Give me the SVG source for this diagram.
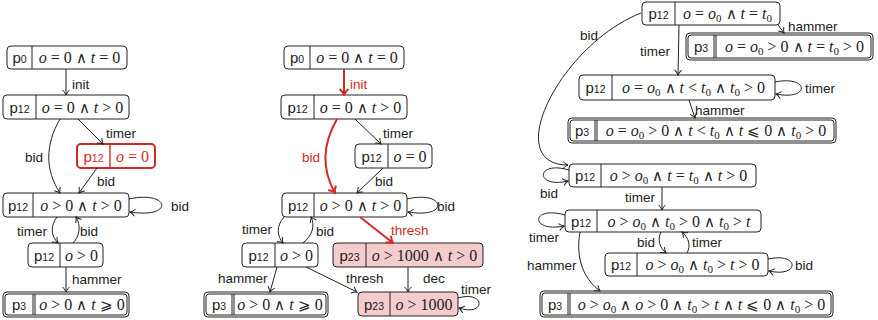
<svg xmlns="http://www.w3.org/2000/svg" width="878" height="320" viewBox="0 0 878 320">
<style>
.n{fill:#fff;stroke:#222;stroke-width:1}
.dv{stroke:#222;stroke-width:1}
.r{fill:#fff;stroke:#d42a22;stroke-width:2}
.rd{stroke:#d42a22;stroke-width:1.4}
.pk{fill:#f4cccc;stroke:#222;stroke-width:1}
.e{fill:none;stroke:#222;stroke-width:1;marker-end:url(#ah)}
.er{fill:none;stroke:#d42a22;stroke-width:2;marker-end:url(#ahr)}
.l{font-family:"Liberation Sans","DejaVu Sans",sans-serif;font-size:13.5px;fill:#222}
.lr{font-family:"Liberation Sans","DejaVu Sans",sans-serif;font-size:13.5px;fill:#d42a22}
.p{font-family:"Liberation Sans","DejaVu Sans",sans-serif;font-size:15px;fill:#222;text-anchor:middle}
.m{font-family:"Liberation Serif","DejaVu Serif",serif;font-size:16px;fill:#222;text-anchor:middle}
.red{fill:#d42a22}
.i{font-style:italic}
.s{font-size:10.5px}
.b{font-size:11px}
.w{font-family:"DejaVu Sans",sans-serif;font-weight:200;font-size:15px}
</style>
<defs>
<marker id="ah" markerUnits="userSpaceOnUse" viewBox="-7 -5 8 10" markerWidth="8" markerHeight="10" refX="0" refY="0" orient="auto">
<path d="M-5,-3.5 C-3,-1.5 -1,-0.4 0,0 C-1,0.4 -3,1.5 -5,3.5" fill="none" stroke="#222" stroke-width="1"/>
</marker>
<marker id="ahr" markerUnits="userSpaceOnUse" viewBox="-8 -6 9 12" markerWidth="9" markerHeight="12" refX="0" refY="0" orient="auto">
<path d="M-6,-4.5 C-4,-2 -1.5,-0.5 0,0 C-1.5,0.5 -4,2 -6,4.5" fill="none" stroke="#d42a22" stroke-width="2"/>
</marker>
</defs>

<!-- LEFT DIAGRAM -->
<g id="L-A">
<rect class="n" x="7" y="46" width="120" height="23" rx="4"/>
<line class="dv" x1="32" y1="46" x2="32" y2="69"/>
<text class="p" x="19.5" y="63">p<tspan class="s">0</tspan></text>
<text class="m" x="79.5" y="63"><tspan class="i">o</tspan> = 0 <tspan class="w">∧</tspan> <tspan class="i">t</tspan> = 0</text>
</g>
<g id="L-B">
<rect class="n" x="3" y="95" width="126" height="24" rx="4"/>
<line class="dv" x1="36" y1="95" x2="36" y2="119"/>
<text class="p" x="19.5" y="112.5">p<tspan class="s">12</tspan></text>
<text class="m" x="82.5" y="112.5"><tspan class="i">o</tspan> = 0 <tspan class="w">∧</tspan> <tspan class="i">t</tspan> &gt; 0</text>
</g>
<g id="L-C">
<rect class="r" x="77" y="144" width="78" height="24" rx="4"/>
<line class="rd" x1="110" y1="144" x2="110" y2="168"/>
<text class="p red" x="93.5" y="161.5">p<tspan class="s">12</tspan></text>
<text class="m red" x="132.5" y="161.5"><tspan class="i">o</tspan> = 0</text>
</g>
<g id="L-D">
<rect class="n" x="3" y="193" width="126" height="24" rx="4"/>
<line class="dv" x1="33" y1="193" x2="33" y2="217"/>
<text class="p" x="18" y="210.5">p<tspan class="s">12</tspan></text>
<text class="m" x="81" y="210.5"><tspan class="i">o</tspan> &gt; 0 <tspan class="w">∧</tspan> <tspan class="i">t</tspan> &gt; 0</text>
</g>
<g id="L-E">
<rect class="n" x="28" y="243" width="75" height="24" rx="4"/>
<line class="dv" x1="60" y1="243" x2="60" y2="267"/>
<text class="p" x="44" y="260.5">p<tspan class="s">12</tspan></text>
<text class="m" x="81.5" y="260.5"><tspan class="i">o</tspan> &gt; 0</text>
</g>
<g id="L-F">
<rect class="n" x="3" y="292" width="126" height="25" rx="4"/>
<rect class="n" x="5" y="294" width="122" height="21" rx="3"/>
<line class="dv" x1="33" y1="294" x2="33" y2="315"/>
<line class="dv" x1="35" y1="294" x2="35" y2="315"/>
<text class="p" x="19" y="310">p<tspan class="s">3</tspan></text>
<text class="m" x="82" y="310"><tspan class="i">o</tspan> &gt; 0 <tspan class="w">∧</tspan> <tspan class="i">t</tspan> <tspan class="w">⩾</tspan> 0</text>
</g>

<!-- MIDDLE DIAGRAM -->
<g id="M-A">
<rect class="n" x="284" y="46" width="120" height="23" rx="4"/>
<line class="dv" x1="310" y1="46" x2="310" y2="69"/>
<text class="p" x="297" y="63">p<tspan class="s">0</tspan></text>
<text class="m" x="357" y="63"><tspan class="i">o</tspan> = 0 <tspan class="w">∧</tspan> <tspan class="i">t</tspan> = 0</text>
</g>
<g id="M-B">
<rect class="n" x="281" y="95" width="126" height="24" rx="4"/>
<line class="dv" x1="314" y1="95" x2="314" y2="119"/>
<text class="p" x="297.5" y="112.5">p<tspan class="s">12</tspan></text>
<text class="m" x="360.5" y="112.5"><tspan class="i">o</tspan> = 0 <tspan class="w">∧</tspan> <tspan class="i">t</tspan> &gt; 0</text>
</g>
<g id="M-C">
<rect class="n" x="355" y="144" width="77" height="24" rx="4"/>
<line class="dv" x1="388" y1="144" x2="388" y2="168"/>
<text class="p" x="371.5" y="161.5">p<tspan class="s">12</tspan></text>
<text class="m" x="410" y="161.5"><tspan class="i">o</tspan> = 0</text>
</g>
<g id="M-D">
<rect class="n" x="282" y="193" width="125" height="24" rx="4"/>
<line class="dv" x1="314" y1="193" x2="314" y2="217"/>
<text class="p" x="298" y="210.5">p<tspan class="s">12</tspan></text>
<text class="m" x="360.5" y="210.5"><tspan class="i">o</tspan> &gt; 0 <tspan class="w">∧</tspan> <tspan class="i">t</tspan> &gt; 0</text>
</g>
<g id="M-E">
<rect class="n" x="242" y="243" width="76" height="24" rx="4"/>
<line class="dv" x1="275" y1="243" x2="275" y2="267"/>
<text class="p" x="258.5" y="260.5">p<tspan class="s">12</tspan></text>
<text class="m" x="296.5" y="260.5"><tspan class="i">o</tspan> &gt; 0</text>
</g>
<g id="M-G">
<rect class="pk" x="333" y="243" width="150" height="24" rx="4"/>
<line class="dv" x1="366" y1="243" x2="366" y2="267"/>
<text class="p" x="349.5" y="260.5">p<tspan class="s">23</tspan></text>
<text class="m" x="424.5" y="260.5"><tspan class="i">o</tspan> &gt; 1000 <tspan class="w">∧</tspan> <tspan class="i">t</tspan> &gt; 0</text>
</g>
<g id="M-H">
<rect class="n" x="204" y="292" width="124" height="25" rx="4"/>
<rect class="n" x="206" y="294" width="120" height="21" rx="3"/>
<line class="dv" x1="232" y1="294" x2="232" y2="315"/>
<line class="dv" x1="234" y1="294" x2="234" y2="315"/>
<text class="p" x="219" y="310">p<tspan class="s">3</tspan></text>
<text class="m" x="280" y="310"><tspan class="i">o</tspan> &gt; 0 <tspan class="w">∧</tspan> <tspan class="i">t</tspan> <tspan class="w">⩾</tspan> 0</text>
</g>
<g id="M-I">
<rect class="pk" x="358" y="292" width="100" height="24" rx="4"/>
<line class="dv" x1="390" y1="292" x2="390" y2="316"/>
<text class="p" x="374" y="309.5">p<tspan class="s">23</tspan></text>
<text class="m" x="424" y="309.5"><tspan class="i">o</tspan> &gt; 1000</text>
</g>

<!-- RIGHT DIAGRAM -->
<g id="R-1">
<rect class="n" x="642" y="2" width="138" height="23" rx="4"/>
<line class="dv" x1="675" y1="2" x2="675" y2="25"/>
<text class="p" x="658.5" y="19">p<tspan class="s">12</tspan></text>
<text class="m" x="727.5" y="19"><tspan class="i">o</tspan> = <tspan class="i">o</tspan><tspan class="b" dy="3">0</tspan><tspan dy="-3"> <tspan class="w">∧</tspan> </tspan><tspan class="i">t</tspan> = <tspan class="i">t</tspan><tspan class="b" dy="3">0</tspan></text>
</g>
<g id="R-2">
<rect class="n" x="686" y="33" width="187" height="27" rx="4"/>
<rect class="n" x="688" y="35" width="183" height="23" rx="3"/>
<line class="dv" x1="714" y1="35" x2="714" y2="58"/>
<line class="dv" x1="716" y1="35" x2="716" y2="58"/>
<text class="p" x="701" y="52">p<tspan class="s">3</tspan></text>
<text class="m" x="794.5" y="52"><tspan class="i">o</tspan> = <tspan class="i">o</tspan><tspan class="b" dy="3">0</tspan><tspan dy="-3"> &gt; 0 <tspan class="w">∧</tspan> </tspan><tspan class="i">t</tspan> = <tspan class="i">t</tspan><tspan class="b" dy="3">0</tspan><tspan dy="-3"> &gt; 0</tspan></text>
</g>
<g id="R-3">
<rect class="n" x="579" y="75" width="196" height="25" rx="4"/>
<line class="dv" x1="612" y1="75" x2="612" y2="100"/>
<text class="p" x="595.5" y="93">p<tspan class="s">12</tspan></text>
<text class="m" x="693.5" y="93"><tspan class="i">o</tspan> = <tspan class="i">o</tspan><tspan class="b" dy="3">0</tspan><tspan dy="-3"> <tspan class="w">∧</tspan> </tspan><tspan class="i">t</tspan> &lt; <tspan class="i">t</tspan><tspan class="b" dy="3">0</tspan><tspan dy="-3"> <tspan class="w">∧</tspan> </tspan><tspan class="i">t</tspan><tspan class="b" dy="3">0</tspan><tspan dy="-3"> &gt; 0</tspan></text>
</g>
<g id="R-4">
<rect class="n" x="568" y="118" width="268" height="25" rx="4"/>
<rect class="n" x="570" y="120" width="264" height="21" rx="3"/>
<line class="dv" x1="595" y1="120" x2="595" y2="141"/>
<line class="dv" x1="597" y1="120" x2="597" y2="141"/>
<text class="p" x="582" y="136">p<tspan class="s">3</tspan></text>
<text class="m" x="716" y="136"><tspan class="i">o</tspan> = <tspan class="i">o</tspan><tspan class="b" dy="3">0</tspan><tspan dy="-3"> &gt; 0 <tspan class="w">∧</tspan> </tspan><tspan class="i">t</tspan> &lt; <tspan class="i">t</tspan><tspan class="b" dy="3">0</tspan><tspan dy="-3"> <tspan class="w">∧</tspan> </tspan><tspan class="i">t</tspan> <tspan class="w">⩽</tspan> 0 <tspan class="w">∧</tspan> <tspan class="i">t</tspan><tspan class="b" dy="3">0</tspan><tspan dy="-3"> &gt; 0</tspan></text>
</g>
<g id="R-5">
<rect class="n" x="569" y="164" width="187" height="23" rx="4"/>
<line class="dv" x1="601" y1="164" x2="601" y2="187"/>
<text class="p" x="585" y="181">p<tspan class="s">12</tspan></text>
<text class="m" x="678.5" y="181"><tspan class="i">o</tspan> &gt; <tspan class="i">o</tspan><tspan class="b" dy="3">0</tspan><tspan dy="-3"> <tspan class="w">∧</tspan> </tspan><tspan class="i">t</tspan> = <tspan class="i">t</tspan><tspan class="b" dy="3">0</tspan><tspan dy="-3"> <tspan class="w">∧</tspan> </tspan><tspan class="i">t</tspan> &gt; 0</text>
</g>
<g id="R-6">
<rect class="n" x="565" y="210" width="196" height="22" rx="4"/>
<line class="dv" x1="597" y1="210" x2="597" y2="232"/>
<text class="p" x="581" y="226.5">p<tspan class="s">12</tspan></text>
<text class="m" x="679" y="226.5"><tspan class="i">o</tspan> &gt; <tspan class="i">o</tspan><tspan class="b" dy="3">0</tspan><tspan dy="-3"> <tspan class="w">∧</tspan> </tspan><tspan class="i">t</tspan><tspan class="b" dy="3">0</tspan><tspan dy="-3"> &gt; 0 <tspan class="w">∧</tspan> </tspan><tspan class="i">t</tspan><tspan class="b" dy="3">0</tspan><tspan dy="-3"> &gt; </tspan><tspan class="i">t</tspan></text>
</g>
<g id="R-7">
<rect class="n" x="605" y="253" width="163" height="23" rx="4"/>
<line class="dv" x1="637" y1="253" x2="637" y2="276"/>
<text class="p" x="621" y="270">p<tspan class="s">12</tspan></text>
<text class="m" x="702.5" y="270"><tspan class="i">o</tspan> &gt; <tspan class="i">o</tspan><tspan class="b" dy="3">0</tspan><tspan dy="-3"> <tspan class="w">∧</tspan> </tspan><tspan class="i">t</tspan><tspan class="b" dy="3">0</tspan><tspan dy="-3"> &gt; </tspan><tspan class="i">t</tspan> &gt; 0</text>
</g>
<g id="R-8">
<rect class="n" x="540" y="291" width="293" height="26" rx="4"/>
<rect class="n" x="542" y="293" width="289" height="22" rx="3"/>
<line class="dv" x1="568" y1="293" x2="568" y2="315"/>
<line class="dv" x1="570" y1="293" x2="570" y2="315"/>
<text class="p" x="555" y="309.5">p<tspan class="s">3</tspan></text>
<text class="m" x="701.5" y="309.5"><tspan class="i">o</tspan> &gt; <tspan class="i">o</tspan><tspan class="b" dy="3">0</tspan><tspan dy="-3"> <tspan class="w">∧</tspan> </tspan><tspan class="i">o</tspan> &gt; 0 <tspan class="w">∧</tspan> <tspan class="i">t</tspan><tspan class="b" dy="3">0</tspan><tspan dy="-3"> &gt; </tspan><tspan class="i">t</tspan> <tspan class="w">∧</tspan> <tspan class="i">t</tspan> <tspan class="w">⩽</tspan> 0 <tspan class="w">∧</tspan> <tspan class="i">t</tspan><tspan class="b" dy="3">0</tspan><tspan dy="-3"> &gt; 0</tspan></text>
</g>

<!-- CONNECTORS -->
<g id="connectors">
<!-- left -->
<path class="e" d="M66 69 L66 95"/>
<text class="l" x="72" y="89">init</text>
<path class="e" d="M78 119 L103 144"/>
<text class="l" x="106" y="138">timer</text>
<path class="e" d="M60 119 C45 145 45 170 60 193"/>
<text class="l" x="25" y="162">bid</text>
<path class="e" d="M97 168 L79 193"/>
<text class="l" x="97" y="186">bid</text>
<path class="e" d="M129 199 C170 190 175 219 130 212"/>
<text class="l" x="171" y="211">bid</text>
<path class="e" d="M57 217 C50 226 51 236 58 243"/>
<text class="l" x="17" y="236">timer</text>
<path class="e" d="M73 243 C80 236 81 225 76 217"/>
<text class="l" x="80" y="236">bid</text>
<path class="e" d="M66 267 L66 292"/>
<text class="l" x="72" y="284">hammer</text>
<!-- middle -->
<path class="er" d="M344 69 L344 95"/>
<text class="lr" x="350" y="89">init</text>
<path class="e" d="M355 119 L381 144"/>
<text class="l" x="383" y="138">timer</text>
<path class="er" d="M337 119 C322 145 322 170 335 193"/>
<text class="lr" x="302" y="162">bid</text>
<path class="e" d="M383 168 L357 193"/>
<text class="l" x="375" y="186">bid</text>
<path class="e" d="M407 199 C446 190 450 219 408 212"/>
<text class="l" x="437" y="211">bid</text>
<path class="e" d="M284 217 C276 226 277 236 283 243"/>
<text class="l" x="242" y="234">timer</text>
<path class="e" d="M303 243 C313 235 315 225 311 217"/>
<text class="l" x="316" y="236">bid</text>
<path class="er" d="M360 217 L393 243"/>
<text class="lr" x="391" y="235">thresh</text>
<path class="e" d="M277 267 L270 292"/>
<text class="l" x="218" y="283">hammer</text>
<path class="e" d="M306 267 L357 292"/>
<text class="l" x="346" y="283">thresh</text>
<path class="e" d="M408 267 L408 292"/>
<text class="l" x="423" y="283">dec</text>
<path class="e" d="M458 298 C486 290 486 317 459 308"/>
<text class="l" x="461" y="294">timer</text>
<!-- right -->
<path class="e" d="M778 25 L784 33"/>
<text class="l" x="788" y="31">hammer</text>
<path class="e" d="M679 25 L678 75"/>
<text class="l" x="640" y="56">timer</text>
<path class="e" d="M775 82 C810 75 810 101 776 94"/>
<text class="l" x="805" y="93">timer</text>
<path class="e" d="M689 100 L695 118"/>
<text class="l" x="695" y="115">hammer</text>
<path class="e" d="M641 13 C560 45 500 165 568 165"/>
<text class="l" x="580" y="40">bid</text>
<path class="e" d="M569 170 C535 160 535 189 568 181"/>
<text class="l" x="540" y="198">bid</text>
<path class="e" d="M662 187 L662 210"/>
<text class="l" x="625" y="202">timer</text>
<path class="e" d="M565 215 C530 205 530 233 564 226"/>
<text class="l" x="529" y="242">timer</text>
<path class="e" d="M661 232 C657 240 660 248 666 253"/>
<text class="l" x="637" y="247">bid</text>
<path class="e" d="M687 253 C691 246 689 238 682 232"/>
<text class="l" x="692" y="247">timer</text>
<path class="e" d="M768 259 C800 252 800 278 769 271"/>
<text class="l" x="795" y="270">bid</text>
<path class="e" d="M580 232 C575 260 585 280 600 291"/>
<text class="l" x="527" y="270">hammer</text>
</g>
</svg>
